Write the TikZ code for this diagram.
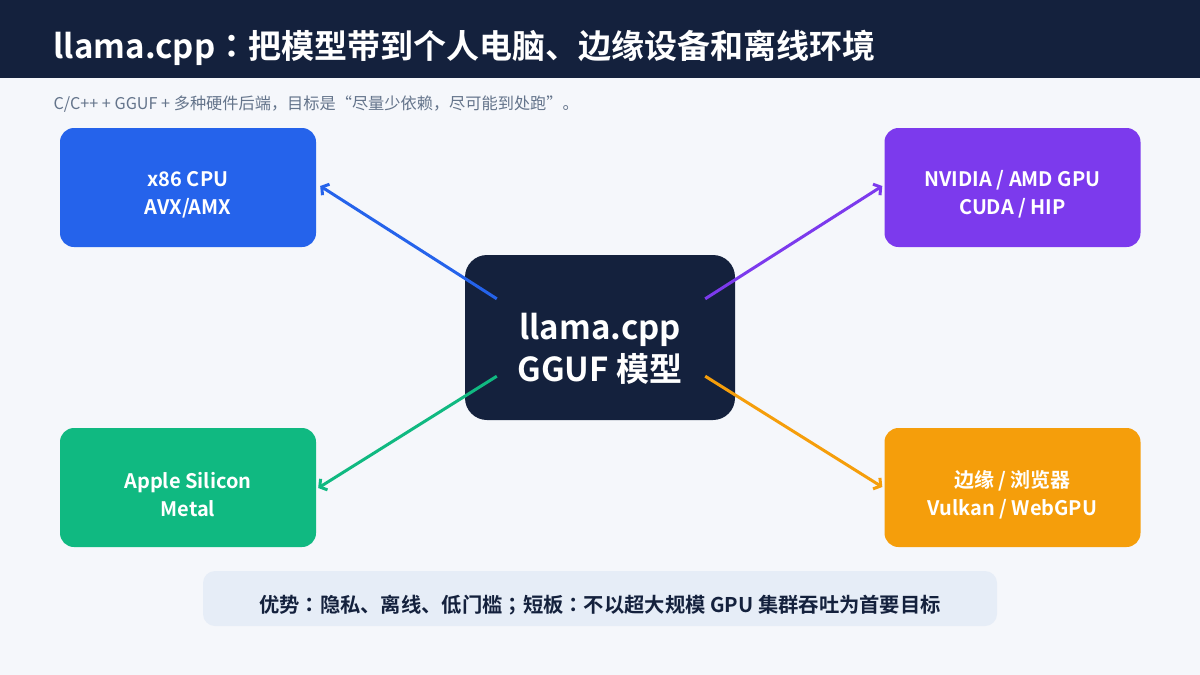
\documentclass[tikz,border=0pt]{standalone}
\usepackage{fontspec}
\setmainfont{Noto Sans CJK SC}[BoldFont={Noto Sans CJK SC Bold}]
\newfontfamily\tcfont{Noto Sans CJK TC}[BoldFont={Noto Sans CJK TC Bold}]
\newcommand{\midp}[1]{{\tcfont #1}}
\usetikzlibrary{arrows.meta,calc,positioning}
\definecolor{figNavy}{RGB}{20,33,61}
\definecolor{figBg}{RGB}{245,247,251}
\definecolor{figGray}{RGB}{100,116,139}
\definecolor{figBlue}{RGB}{37,99,235}
\definecolor{figPurple}{RGB}{124,58,237}
\definecolor{figGreen}{RGB}{16,185,129}
\definecolor{figOrange}{RGB}{245,158,11}
\definecolor{figBar}{RGB}{230,237,247}

\begin{document}
\begin{tikzpicture}[x=1pt,y=-1pt,>={Straight Barb[length=5pt,width=13pt]},
  hw/.style={rounded corners=14pt,minimum width=256pt,minimum height=119pt,text=white,
    font=\fontsize{20}{28}\selectfont\bfseries,align=center,inner sep=0pt},
  link/.style={->,line width=3pt}]
\useasboundingbox (0,0) rectangle (1200,675);
\fill[figBg] (0,0) rectangle (1200,675);
\fill[figNavy] (0,0) rectangle (1200,78);
\node[anchor=west,text=white,font=\fontsize{33}{38}\selectfont\bfseries] (title) at (50,48) {llama.cpp\midp{：}把模型带到个人电脑、边缘设备和离线环境};
\node[anchor=west,text=figGray,font=\fontsize{16.2}{18}\selectfont] (sub) at (50,104) {C/C++ + GGUF + 多种硬件后端，目标是“尽量少依赖，尽可能到处跑”。};
% center and hardware targets
\node[fill=figNavy,rounded corners=22pt,minimum width=270pt,minimum height=165pt,text=white,
  font=\fontsize{33}{42}\selectfont\bfseries,align=center,inner sep=0pt] (core) at (600,337.5) {};
\node[text=white,font=\fontsize{33}{42}\selectfont\bfseries,align=center,inner sep=0pt] (coret) at ($(core)+(0,11)$) {llama.cpp\\GGUF 模型};
\node[hw,fill=figBlue] (cpu) at (188,187.5) {};
\node[hw,fill=figPurple] (gpu) at (1012.5,187.5) {};
\node[hw,fill=figGreen] (mac) at (188,487.5) {};
\node[hw,fill=figOrange] (edge) at (1012.5,487.5) {};
\node[hw,minimum size=0pt] (cput) at ($(cpu)+(0,7)$) {x86 CPU\\AVX/AMX};
\node[hw,minimum size=0pt] (gput) at ($(gpu)+(0,7)$) {NVIDIA / AMD GPU\\CUDA / HIP};
\node[hw,minimum size=0pt] (mact) at ($(mac)+(0,7)$) {Apple Silicon\\Metal};
\node[hw,minimum size=0pt] (edget) at ($(edge)+(0,7)$) {边缘 / 浏览器\\Vulkan / WebGPU};
\draw[link,figBlue] ($(core.north west)+(32,44)$)--($(cpu.east)+(4,-1.5)$);
\draw[link,figPurple] ($(core.north east)+(-30,44)$)--($(gpu.west)+(-2,-1.5)$);
\draw[link,figGreen] ($(core.south west)+(32,-44)$)--($(mac.east)+(2,0.5)$);
\draw[link,figOrange] ($(core.south east)+(-30,-44)$)--($(edge.west)+(-2,-0.5)$);
% bottom note
\node[fill=figBar,rounded corners=12pt,minimum width=794pt,minimum height=55pt] (note) at (600,598.5) {};
\node[text=figNavy,font=\fontsize{20.3}{22}\selectfont\bfseries,inner sep=0pt] (notet) at ($(note)+(0,7)$) {优势\midp{：}隐私、离线、低门槛\midp{；}短板\midp{：}不以超大规模 GPU 集群吞吐为首要目标};
\end{tikzpicture}
\end{document}
